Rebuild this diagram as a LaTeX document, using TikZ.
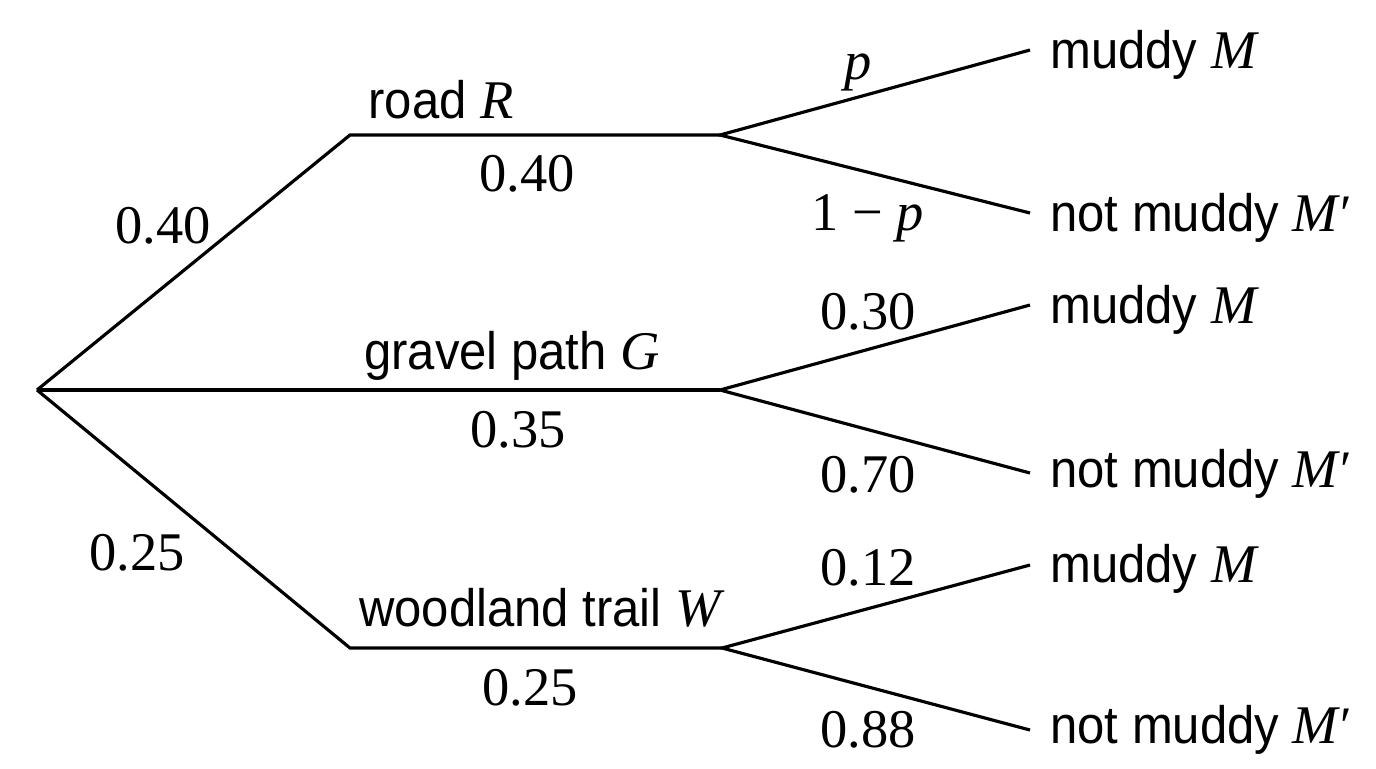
\documentclass[tikz,border=0pt]{standalone}
\usepackage{fontspec}
\setmainfont{Liberation Serif}
\newfontfamily\lblfont[FakeStretch=0.93]{Liberation Sans}
\usetikzlibrary{positioning}
\newcommand{\var}[1]{{\rmfamily\itshape\fontsize{31}{34}\selectfont #1}}

\begin{document}
\begin{tikzpicture}[x=0.02cm,y=-0.02cm,
    branch/.style={line width=1.8pt, line join=miter},
    prob/.style={font=\fontsize{31}{34}\selectfont, inner sep=0pt},
    event/.style={font=\lblfont\fontsize{30}{34}\selectfont, anchor=base, inner sep=0pt},
    leaf/.style={font=\lblfont\fontsize{30}{34}\selectfont, anchor=base west, inner sep=0pt}]
  \useasboundingbox (0,0) rectangle (1376,768);

  % tree points
  \coordinate (root) at (37,390);
  \coordinate (rA) at (350,135);
  \coordinate (rB) at (720,135);
  \coordinate (gB) at (720,390);
  \coordinate (wA) at (350,648);
  \coordinate (wB) at (722,648);
  \coordinate (rM) at (1030,50);
  \coordinate (rN) at (1030,213);
  \coordinate (gM) at (1030,305);
  \coordinate (gN) at (1030,473);
  \coordinate (wM) at (1030,565);
  \coordinate (wN) at (1030,730);

  % branches
  \draw[branch] (root) -- (rA) -- (rB);
  \draw[branch] (root) -- (gB);
  \draw[branch] (root) -- (wA) -- (wB);
  \draw[branch] (rM) -- (rB) -- (rN);
  \draw[branch] (gM) -- (gB) -- (gN);
  \draw[branch] (wM) -- (wB) -- (wN);

  % first stage
  \node[event] (road) at (441,118) {road \var{R}};
  \node[event] (gravel) at (512,369) {gravel path \var{G}};
  \node[event] (wood) at (540,626) {woodland trail \var{W}};
  \node[prob] (pR) at (163,226) {0.40};
  \node[prob] (pRb) at (527,174) {0.40};
  \node[prob] (pGb) at (518,430) {0.35};
  \node[prob] (pW) at (137,553) {0.25};
  \node[prob] (pWb) at (530,688) {0.25};

  % second stage
  \node[prob] (pRM) at (858,72) {\var{p}};
  \node[prob] (pRN) at (868,218) {1 − \var{p}};
  \node[prob] (pGM) at (868,312) {0.30};
  \node[prob] (pGN) at (868,475) {0.70};
  \node[prob] (pWM) at (868,568) {0.12};
  \node[prob] (pWN) at (868,730) {0.88};

  \node[leaf] (lRM) at (1050,68) {muddy \var{M}};
  \node[leaf] (lRN) at (1050,231) {not muddy \var{M}\textrm{′}};
  \node[leaf] (lGM) at (1050,323) {muddy \var{M}};
  \node[leaf] (lGN) at (1050,487) {not muddy \var{M}\textrm{′}};
  \node[leaf] (lWM) at (1050,582) {muddy \var{M}};
  \node[leaf] (lWN) at (1050,743) {not muddy \var{M}\textrm{′}};
\end{tikzpicture}
\end{document}
